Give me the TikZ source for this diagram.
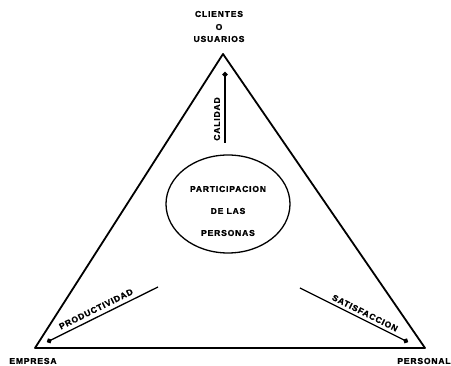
\documentclass[tikz,border=0pt]{standalone}
\usepackage{fontspec}
\setmainfont{Liberation Sans}
\newfontfamily\lblfont{Liberation Sans}[LetterSpace=10,FakeBold=1.5]
\usetikzlibrary{arrows.meta,shapes.geometric}
\begin{document}
\begin{tikzpicture}[x=1pt,y=-1pt,
 lbl/.style={font=\fontsize{8.5}{10}\lblfont\bfseries, align=center, inner sep=0pt},
 tri/.style={line width=1.8pt, line join=round},
 arr/.style={line width=1.3pt, -{Circle[length=5pt]}}]
\useasboundingbox (0,0) rectangle (451,366);
\coordinate (A) at (223,54);
\coordinate (B) at (35,348);
\coordinate (C) at (425,348);
\draw[tri] (A) -- (B) -- (C) -- cycle;
\node[draw, ellipse, line width=1.3pt, minimum width=124pt, minimum height=98pt, inner sep=0pt] (P) at (228,204) {};
\node[lbl] (Pt1) at (228,189) {PARTICIPACION};
\node[lbl] (Pt2) at (228,211) {DE LAS};
\node[lbl] (Pt3) at (228,233) {PERSONAS};
% vertex labels
\node[lbl] (cli) at (219,14) {CLIENTES};
\node[lbl] (o) at (219,27) {O};
\node[lbl] (usu) at (219,39) {USUARIOS};
\node[lbl] (emp) at (33,361) {EMPRESA};
\node[lbl] (per) at (424,361) {PERSONAL};
% arrows
\coordinate (c1) at (225,143);
\coordinate (c2) at (225,72);
\draw[arr] (c1) -- (c2);
\node[lbl, rotate=90] (cal) at (217,119) {CALIDAD};
\coordinate (p1) at (158,287);
\coordinate (p2) at (47,342);
\draw[arr] (p1) -- (p2);
\node[lbl, rotate=26.4] (pro) at (96,309) {PRODUCTIVIDAD};
\coordinate (s1) at (300,288);
\coordinate (s2) at (408,342);
\draw[arr] (s1) -- (s2);
\node[lbl, rotate=-26.6] (sat) at (365,313) {SATISFACCION};
\end{tikzpicture}
\end{document}
